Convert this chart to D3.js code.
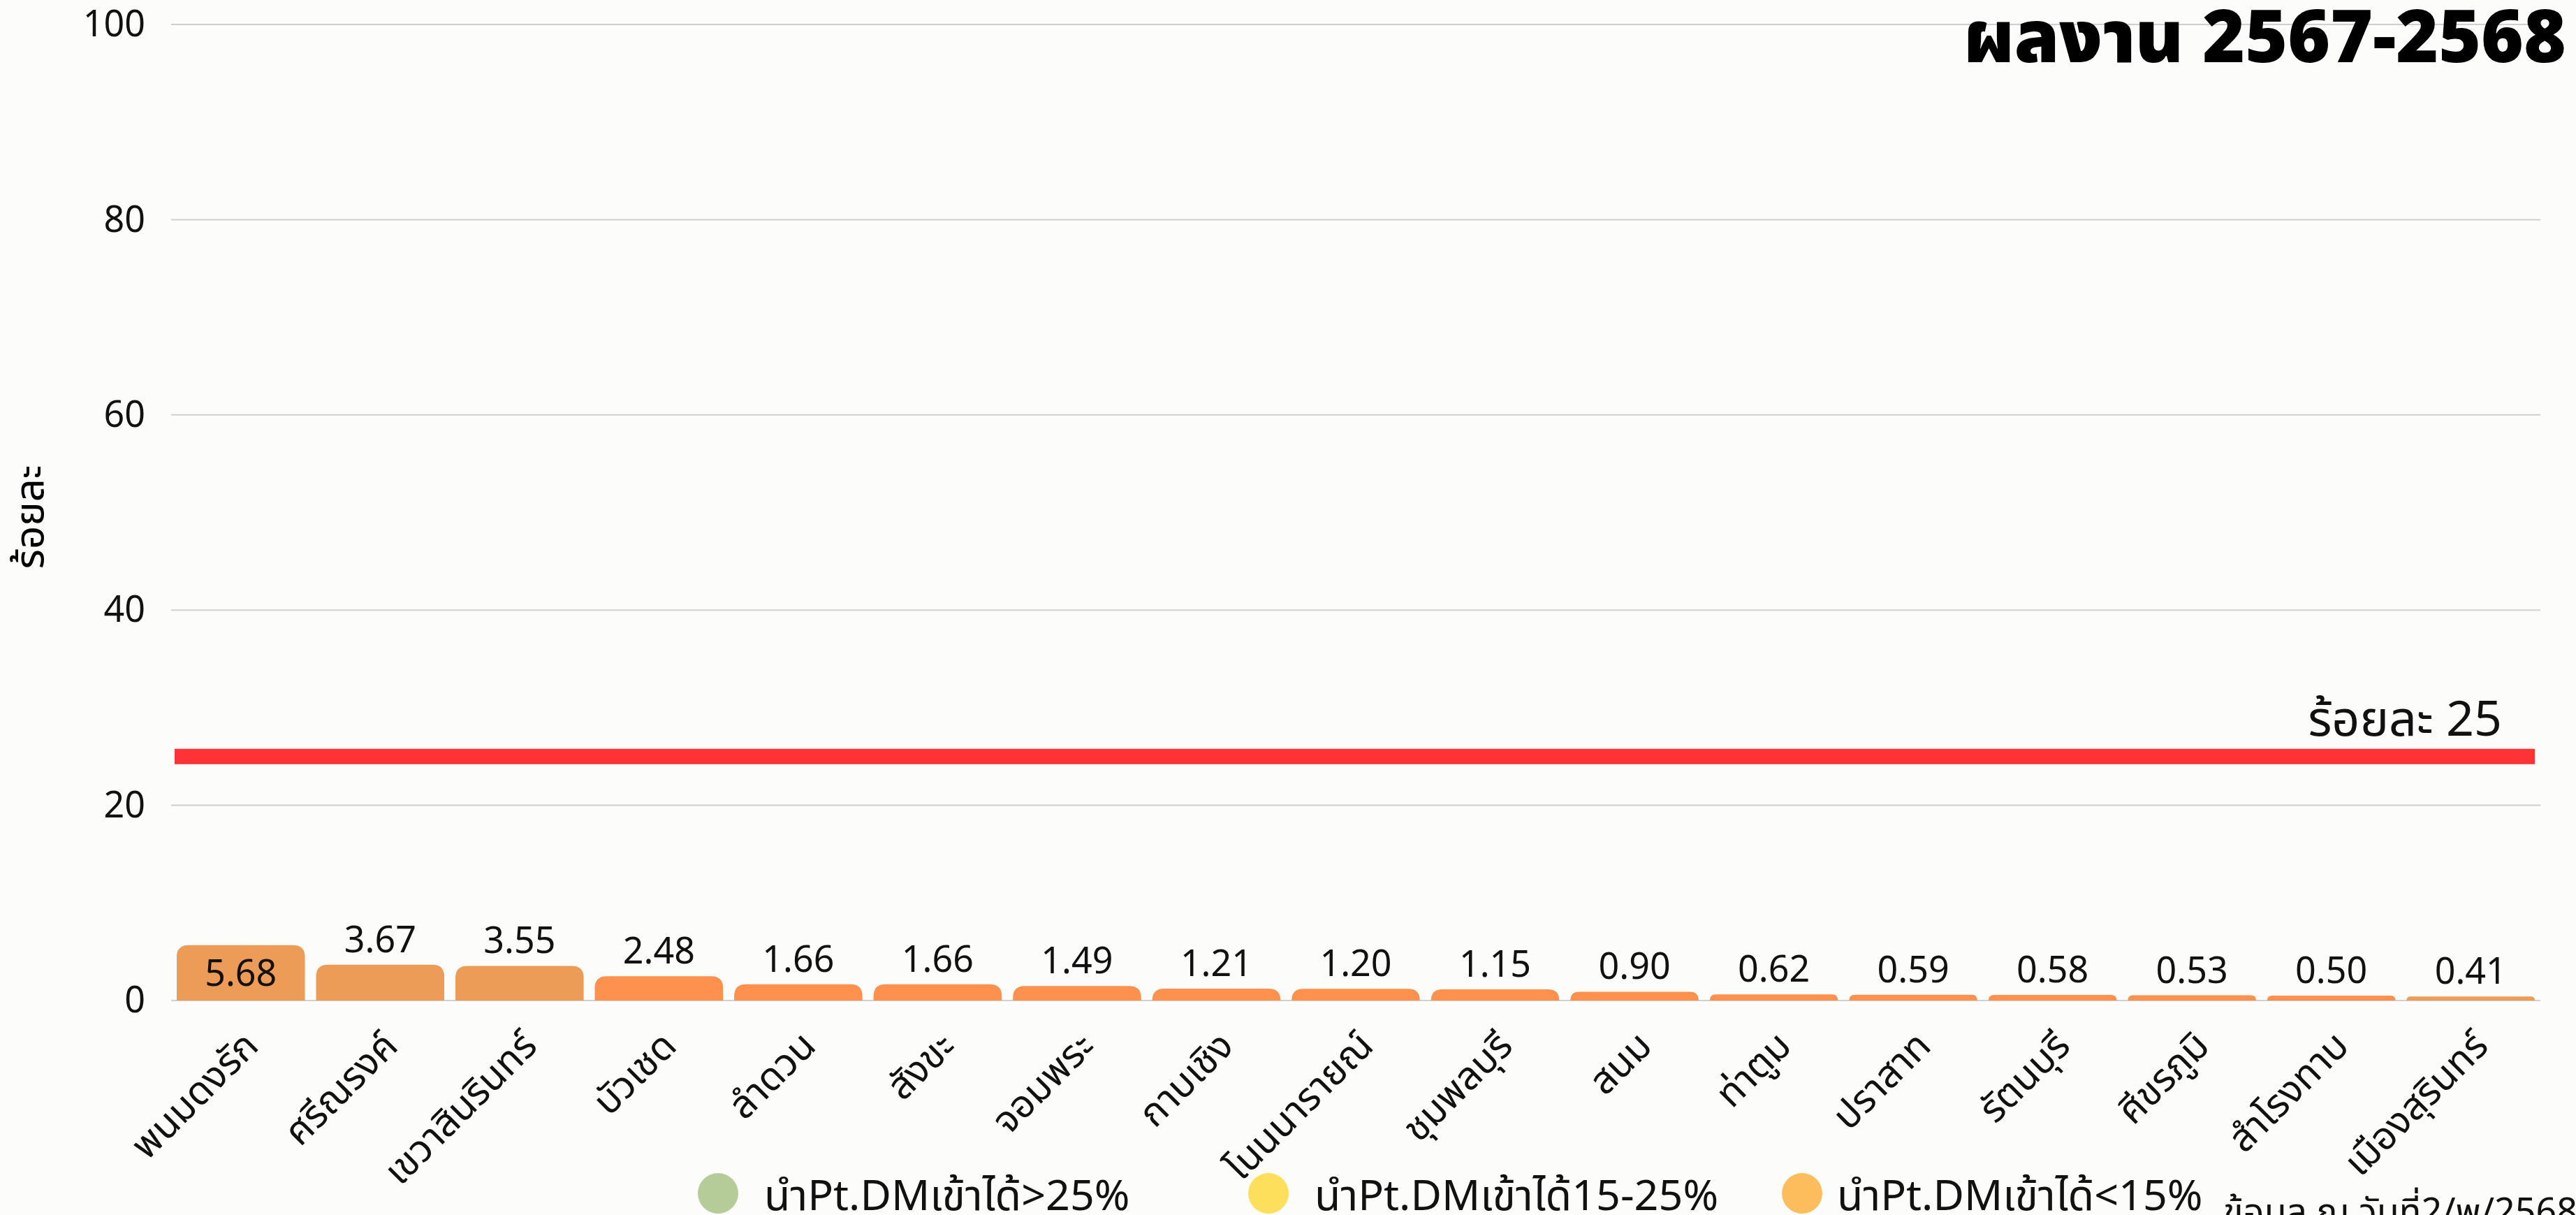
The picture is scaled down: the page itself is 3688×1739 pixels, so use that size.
<html>
<head>
<meta charset="utf-8">
<script src="https://d3js.org/d3.v7.min.js"></script>
<style>
  body { margin: 0; background: #fcfdfb; }
  svg { display: block; font-family: "Noto Sans Thai", "Noto Sans", sans-serif; }
</style>
</head>
<body>
<svg width="3688" height="1739"></svg>
<script>
// data
var districts = ["พนมดงรัก", "ศรีณรงค์", "เขวาสินรินทร์", "บัวเชด", "ลำดวน", "สังขะ", "จอมพระ",
  "กาบเชิง", "โนนนารายณ์", "ชุมพลบุรี", "สนม", "ท่าตูม", "ปราสาท", "รัตนบุรี", "ศีขรภูมิ",
  "สำโรงทาบ", "เมืองสุรินทร์"];
var percents = [5.68, 3.67, 3.55, 2.48, 1.66, 1.66, 1.49, 1.21, 1.20, 1.15, 0.90, 0.62, 0.59, 0.58, 0.53, 0.50, 0.41];
var yTicks = [0, 20, 40, 60, 80, 100];
var target = 25;
var legendLabels = ["นำPt.DMเข้าได้>25%", "นำPt.DMเข้าได้15-25%", "นำPt.DMเข้าได้<15%"];

var title = "ผลงาน 2567-2568";
var note = "ข้อมูล ณ วันที่2/พ/2568";

// styles
var legendColors = ["#b5cb98", "#fedf5b", "#febd5c"];
var barColor = "#ff914f";
var mutedColor = "#ec9c56";
var mutedBars = [0, 1, 2, 16];   // bars drawn in the duller orange

var svg = d3.select("svg");

var x = d3.scaleBand().domain(districts).range([245, 3637]).paddingInner(0.08).paddingOuter(0.04);
var y = d3.scaleLinear().domain([0, 100]).range([1432, 35]);

// grid
svg.append("g")
  .selectAll("line").data(yTicks).enter().append("line")
  .attr("x1", 245).attr("x2", 3637)
  .attr("y1", function(d) { return y(d); })
  .attr("y2", function(d) { return y(d); })
  .attr("stroke", "#cfcfcf").attr("stroke-width", 2);

// y axis labels
var yAxis = svg.append("g")
  .attr("transform", "translate(" + 222 + ",0)")
  .call(d3.axisLeft(y).tickValues(yTicks).tickSize(0).tickPadding(14));
yAxis.select(".domain").remove();
yAxis.selectAll("text")
  .attr("font-size", 52).attr("fill", "#111")
  .attr("font-family", "'Noto Sans', sans-serif");

svg.append("text")
  .attr("transform", "translate(" + 62 + "," + 740 + ") rotate(-90)")
  .attr("text-anchor", "middle")
  .attr("font-size", 58)
  .text("ร้อยละ");

// rounded-top bar path
function barPath(d, i) {
  var x0 = x(districts[i]), w = x.bandwidth();
  var top = y(d), bot = y(0);
  var r = Math.min(17, bot - top, w / 2);
  return "M" + x0 + "," + bot +
    "V" + (top + r) +
    "Q" + x0 + "," + top + " " + (x0 + r) + "," + top +
    "H" + (x0 + w - r) +
    "Q" + (x0 + w) + "," + top + " " + (x0 + w) + "," + (top + r) +
    "V" + bot + "Z";
}

svg.append("g")
  .selectAll("path").data(percents).enter().append("path")
  .attr("d", barPath)
  .attr("fill", function(d, i) { return mutedBars.indexOf(i) >= 0 ? mutedColor : barColor; });

// value labels (the largest one sits inside its bar)
var maxVal = d3.max(percents);
svg.append("g")
  .selectAll("text").data(percents).enter().append("text")
  .attr("x", function(d, i) { return x(districts[i]) + x.bandwidth() / 2; })
  .attr("y", function(d) { return d === maxVal ? y(d) + 58 : y(d) - 18; })
  .attr("text-anchor", "middle")
  .attr("font-size", 52)
  .attr("fill", "#111")
  .attr("font-family", "'Noto Sans', sans-serif")
  .text(function(d) { return d.toFixed(2); });

// target line
svg.append("line")
  .attr("x1", x.range()[0] + 5).attr("x2", x(districts[districts.length - 1]) + x.bandwidth())
  .attr("y1", y(target)).attr("y2", y(target))
  .attr("stroke", "#ff3236").attr("stroke-width", 22);

svg.append("text")
  .attr("x", 3582).attr("y", y(target) - 30)
  .attr("text-anchor", "end")
  .attr("font-size", 70)
  .attr("fill", "#111")
  .text("ร้อยละ " + target);

// x labels
svg.append("g")
  .selectAll("text").data(districts).enter().append("text")
  .attr("transform", function(d) {
    return "translate(" + (x(d) + x.bandwidth() / 2 + 28) + "," + 1500 + ") rotate(-45)";
  })
  .attr("text-anchor", "end")
  .attr("font-size", 55)
  .attr("fill", "#111")
  .text(function(d) { return d; });

// title
svg.append("text")
  .attr("x", 3674).attr("y", 89)
  .attr("text-anchor", "end")
  .attr("font-size", 104)
  .attr("font-weight", 900)
  .style("font-stretch", "condensed")
  .attr("fill", "#000")
  .text(title);

// legend
var legendX = [1028, 1816, 2580];
var legendTextX = [1094, 1882, 2630];
var legend = svg.append("g");
legend.selectAll("circle").data(legendLabels).enter().append("circle")
  .attr("cx", function(d, i) { return legendX[i]; })
  .attr("cy", 1708)
  .attr("r", 29)
  .attr("fill", function(d, i) { return legendColors[i]; });
legend.selectAll("text").data(legendLabels).enter().append("text")
  .attr("x", function(d, i) { return legendTextX[i]; })
  .attr("y", 1732)
  .attr("font-size", 61)
  .attr("fill", "#111")
  .text(function(d) { return d; });

// footnote
svg.append("text")
  .attr("x", 3690).attr("y", 1752)
  .attr("text-anchor", "end")
  .attr("font-size", 52)
  .attr("fill", "#111")
  .text(note);
</script>
</body>
</html>
